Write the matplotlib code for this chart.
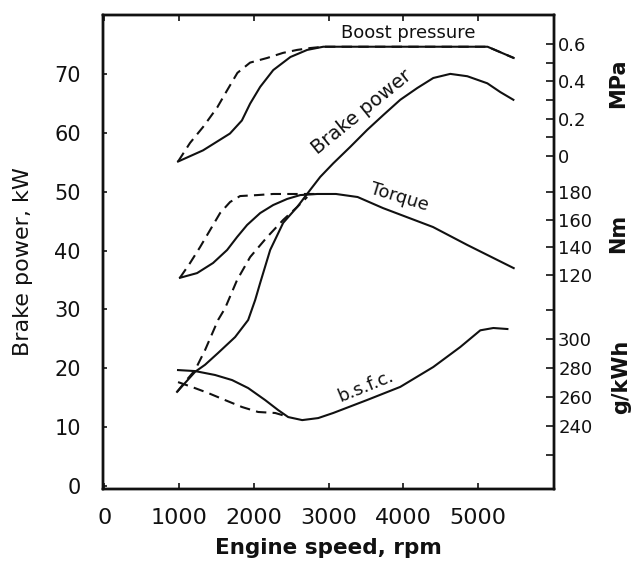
import matplotlib
matplotlib.use('Agg')
import matplotlib.pyplot as plt

plt.rcParams['font.family'] = ['DejaVu Sans']

# engine speed (rpm) and readings for each curve; solid = one build, dashed = other
boost_rpm = [985, 1320, 1680, 1840, 1950, 2085, 2260, 2490, 2715, 2930, 3960, 5130, 5480]
boost_mpa = [-0.03, 0.03, 0.12, 0.19, 0.28, 0.37, 0.46, 0.53, 0.568, 0.585, 0.585, 0.585, 0.525]
boost_d_rpm = [985, 1146, 1320, 1510, 1640, 1780, 1950, 2180, 2390, 2580, 2755, 2930, 3960, 5130, 5480]
boost_d_mpa = [-0.03, 0.07, 0.155, 0.26, 0.35, 0.445, 0.50, 0.525, 0.552, 0.568, 0.578, 0.585, 0.585, 0.585, 0.525]

power_rpm = [972, 1213, 1347, 1521, 1749, 1924, 2018, 2085, 2219, 2393, 2581, 2755, 2889,
             3063, 3291, 3519, 3733, 3961, 4189, 4403, 4631, 4859, 5127, 5302, 5476]
power_kw = [16.0, 19.4, 20.6, 22.6, 25.3, 28.2, 31.6, 34.5, 40.1, 44.7, 47.4, 50.3, 52.5,
            54.8, 57.6, 60.5, 63.0, 65.6, 67.6, 69.3, 70.0, 69.6, 68.4, 66.9, 65.6]
power_d_rpm = [972, 1079, 1213, 1347, 1521, 1615, 1776, 1951, 2179, 2393, 2581, 2715]
power_d_kw = [16.0, 17.7, 19.7, 23.1, 28.2, 30.2, 35.0, 38.9, 42.3, 45.2, 47.4, 49.1]

torque_rpm = [1010, 1240, 1454, 1642, 1776, 1910, 2085, 2259, 2446, 2621, 2849, 3100, 3390,
              3730, 4400, 4860, 5480]
torque_nm = [118.0, 121.4, 128.7, 138.1, 147.5, 156.2, 164.8, 170.6, 175.0, 177.8, 178.6,
             178.6, 176.4, 168.4, 154.7, 141.7, 125.0]
torque_d_rpm = [1010, 1146, 1280, 1414, 1548, 1682, 1816, 2045, 2259, 2600, 2849]
torque_d_nm = [118.0, 128.7, 140.2, 152.5, 164.8, 172.8, 177.1, 177.8, 178.6, 178.6, 178.6]

bsfc_rpm = [985, 1213, 1481, 1709, 1924, 2152, 2326, 2460, 2648, 2862, 3063, 3519, 3961,
            4403, 4765, 5033, 5208, 5396]
bsfc_g = [278.6, 277.9, 275.2, 271.7, 266.2, 257.9, 251.0, 246.2, 244.1, 245.5, 249.0,
          258.0, 267.0, 280.7, 294.5, 306.0, 307.6, 306.9]
bsfc_d_rpm = [985, 1173, 1387, 1615, 1843, 2058, 2286, 2379, 2460]
bsfc_d_g = [270.3, 266.9, 262.8, 257.9, 253.1, 249.7, 249.0, 247.6, 246.2]

x_ticks = [0, 1000, 2000, 3000, 4000, 5000]
kw_ticks = [0, 10, 20, 30, 40, 50, 60, 70]
mpa_ticks = [0, 0.1, 0.2, 0.3, 0.4, 0.5, 0.6]
mpa_labels = ['0', '', '0.2', '', '0.4', '', '0.6']
nm_ticks = [120, 140, 160, 180]
g_ticks = [220, 240, 260, 280, 300, 320]
g_labels = ['', '240', '260', '280', '300', '']

ink = '#111111'
lw = 1.5
dash = (0, (5, 3))

fig = plt.figure(figsize=(6.34, 5.68), dpi=100)
pos = [103 / 634, 1 - 489 / 568, 451 / 634, 474 / 568]
ax = fig.add_axes(pos)
ax.set_xlim(-20, 6020)
ax.set_ylim(-0.5, 80)

ax_mpa = ax.twinx()
ax_mpa.set_ylim(-1.784, 0.755)
ax_nm = ax.twinx()
ax_nm.set_ylim(-34.7, 308)
ax_g = ax.twinx()
ax_g.set_ylim(196.6, 523.4)

ax.plot(power_rpm, power_kw, color=ink, lw=lw)
ax.plot(power_d_rpm, power_d_kw, color=ink, lw=lw, ls=dash)
ax_mpa.plot(boost_rpm, boost_mpa, color=ink, lw=lw)
ax_mpa.plot(boost_d_rpm, boost_d_mpa, color=ink, lw=lw, ls=dash)
ax_nm.plot(torque_rpm, torque_nm, color=ink, lw=lw)
ax_nm.plot(torque_d_rpm, torque_d_nm, color=ink, lw=lw, ls=dash)
ax_g.plot(bsfc_rpm, bsfc_g, color=ink, lw=lw)
ax_g.plot(bsfc_d_rpm, bsfc_d_g, color=ink, lw=lw, ls=dash)

# main axes ticks
ax.set_xticks(x_ticks)
ax.set_yticks(kw_ticks)
ax.tick_params(axis='x', direction='in', length=4, width=1.2, top=True,
               labelsize=16, pad=14, colors=ink)
ax.tick_params(axis='y', direction='in', length=3, width=1.2,
               labelsize=15, pad=16, colors=ink)
ax.xaxis.set_ticks_position('both')

for a in (ax, ax_mpa, ax_nm, ax_g):
    for s in a.spines.values():
        s.set_linewidth(1.6)
        s.set_color(ink)

# right hand scales
ax_mpa.set_yticks(mpa_ticks)
ax_mpa.set_yticklabels(mpa_labels)
ax_nm.set_yticks(nm_ticks)
ax_nm.set_yticklabels([str(v) for v in nm_ticks])
ax_g.set_yticks(g_ticks)
ax_g.set_yticklabels(g_labels)
for a in (ax_mpa, ax_nm, ax_g):
    a.tick_params(axis='y', direction='in', length=6, width=1.2,
                  labelsize=13, pad=3, colors=ink)

# axis titles
fig.text(23 / 634, 1 - 262 / 568, 'Brake power, kW', rotation=90,
         ha='center', va='center', fontsize=16, color=ink)
fig.text(328 / 634, 1 - 548 / 568, 'Engine speed, rpm', ha='center',
         va='center', fontsize=15.5, fontweight='bold', color=ink)
fig.text(618 / 634, 1 - 83 / 568, 'MPa', rotation=90, ha='center',
         va='center', fontsize=15, fontweight='bold', color=ink)
fig.text(618 / 634, 1 - 233 / 568, 'Nm', rotation=90, ha='center',
         va='center', fontsize=15, fontweight='bold', color=ink)
fig.text(621 / 634, 1 - 377 / 568, 'g/kWh', rotation=90, ha='center',
         va='center', fontsize=15, fontweight='bold', color=ink)

# curve labels
ax.text(4070, 76.9, 'Boost pressure', fontsize=13, ha='center', va='center', color=ink)
ax.text(3450, 63.5, 'Brake power', fontsize=14, rotation=39, ha='center', va='center', color=ink)
ax.text(3950, 49.0, 'Torque', fontsize=13, rotation=-17, ha='center', va='center', color=ink)
ax.text(3500, 17.0, 'b.s.f.c.', fontsize=13, rotation=22, ha='center', va='center', color=ink)

fig.savefig('out.png', dpi=100, facecolor='white')
